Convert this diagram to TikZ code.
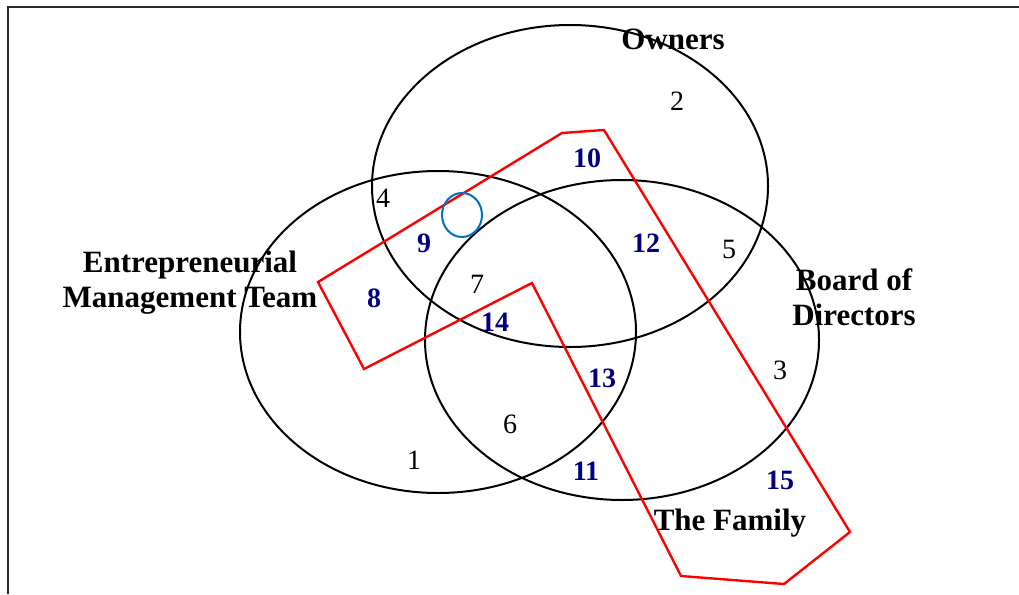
\documentclass[tikz,border=0pt]{standalone}
\usepackage{fontspec}
\setmainfont{Liberation Serif}
\usepackage{xcolor}
\usepackage{tikz}
\usetikzlibrary{positioning}
\definecolor{framegrey}{RGB}{40,40,40}
\definecolor{familyred}{RGB}{255,0,0}
\definecolor{numnavy}{RGB}{0,0,128}
\definecolor{markblue}{RGB}{0,112,192}

\begin{document}
\begin{tikzpicture}[x=1pt,y=-1pt,
  setname/.style={font=\fontsize{31}{35}\selectfont\bfseries,align=center,inner sep=0pt},
  plainnum/.style={font=\fontsize{28}{30}\selectfont,inner sep=0pt},
  boldnum/.style={font=\fontsize{28}{30}\selectfont\bfseries,text=numnavy,inner sep=0pt}]
  \useasboundingbox (0,0) rectangle (1019,594);
  \draw[framegrey,line width=2pt] (8,594)--(8,7)--(1019,7);
  % the three circles
  \draw[black,line width=2pt] (570,186) ellipse [x radius=198,y radius=161];
  \draw[black,line width=2pt] (438,332) ellipse [x radius=198,y radius=161];
  \draw[black,line width=2pt] (622,340) ellipse [x radius=197,y radius=160];
  % the family
  \draw[familyred,line width=2.4pt,line join=miter] (318,282)--(562,133)--(604,130)--(850,532)
    --(784,584)--(681,576)--(532,283)--(364,369)--cycle;
  \draw[markblue,line width=2pt] (462,215) ellipse [x radius=20,y radius=22];
  \node[setname] (owners) at (673,39) {Owners};
  \node[setname] (emt) at (190,283) {Entrepreneurial\\Management Team};
  \node[setname] (board) at (854,297) {Board of\\Directors};
  \node[setname] (family) at (730,523) {The Family};
  \foreach \n/\x/\y in {1/414/460,2/677/101,3/780/370,4/383/198,5/729/249,6/510/424,7/477/284}{
    \node[plainnum] (n\n) at (\x,\y) {\n};}
  \foreach \n/\x/\y in {8/374/298,9/424/243,10/587/158,11/586/471,12/646/243,13/602/378,
                        14/495/322,15/780/480}{
    \node[boldnum] (n\n) at (\x,\y) {\n};}
\end{tikzpicture}
\end{document}
